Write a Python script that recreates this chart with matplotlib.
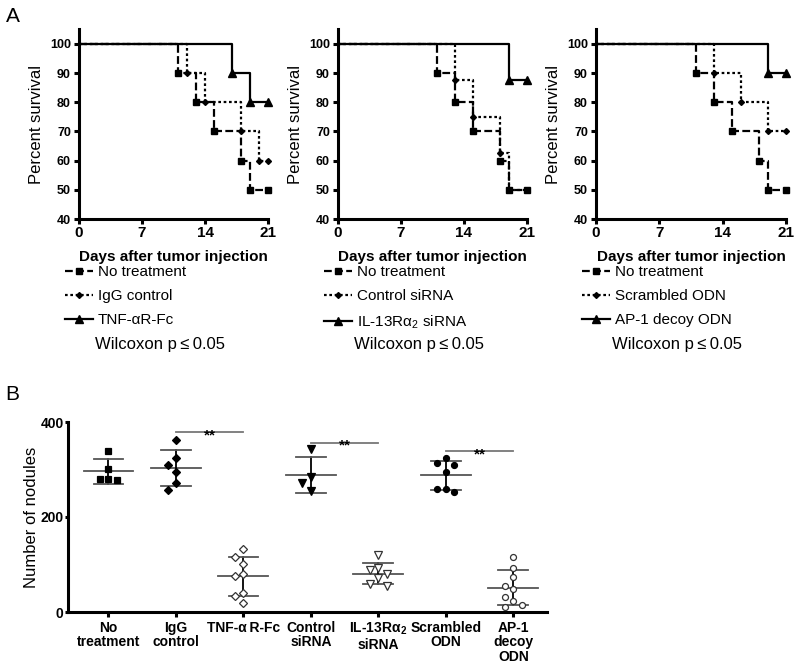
import numpy as np
import matplotlib
matplotlib.use('Agg')
import matplotlib.pyplot as plt
from matplotlib.lines import Line2D
from matplotlib.transforms import offset_copy

plt.rcParams['font.family'] = ['Liberation Sans', 'DejaVu Sans']
plt.rcParams['mathtext.default'] = 'regular'

# ---- panel A: survival curves (day of event, percent survival)
none_days = [0, 11, 13, 15, 18, 19, 21]
none_surv = [100, 90, 80, 70, 60, 50, 50]

igg_days = [0, 12, 14, 18, 20, 21]
igg_surv = [100, 90, 80, 70, 60, 60]
tnf_days = [0, 17, 19, 21]
tnf_surv = [100, 90, 80, 80]

ctrl_sirna_days = [0, 13, 15, 18, 19, 21]
ctrl_sirna_surv = [100, 87.5, 75, 62.5, 50, 50]
il13_days = [0, 19, 21]
il13_surv = [100, 87.5, 87.5]

scr_days = [0, 13, 16, 19, 21]
scr_surv = [100, 90, 80, 70, 70]
ap1_days = [0, 19, 21]
ap1_surv = [100, 90, 90]

ctrl_labels = ['IgG control', 'Control siRNA', 'Scrambled ODN']
treat_labels = ['TNF-αR-Fc', 'IL-13Rα${}_2$ siRNA', 'AP-1 decoy ODN']

# ---- panel B: nodule counts per mouse
groups = ['No\ntreatment', 'IgG\ncontrol', 'TNF-α\u2009R-Fc', 'Control\nsiRNA',
          'IL-13Rα${}_2$\nsiRNA', 'Scrambled\nODN', 'AP-1\ndecoy\nODN']
nod_none = [340, 302, 281, 278, 281]
nod_igg = [363, 325, 309, 295, 271, 257]
nod_tnf = [132, 116, 102, 81, 76, 39, 34, 20]
nod_ctrl_sirna = [343, 285, 272, 254]
nod_il13 = [119, 88, 92, 81, 71, 55, 60]
nod_scr = [325, 309, 313, 295, 260, 259, 252]
nod_ap1 = [115, 92, 73, 55, 48, 32, 23, 15, 10]
sig_pairs = [(1, 2), (3, 4), (5, 6)]
sig_heights = [378, 356, 338]

W, H = 800, 667
fig = plt.figure(figsize=(8, 6.67), dpi=100)


def px_axes(l, t, r, b):
    return fig.add_axes([l / W, 1 - b / H, (r - l) / W, (b - t) / H])


def style_axes(ax):
    for s in ['top', 'right']:
        ax.spines[s].set_visible(False)
    for s in ['left', 'bottom']:
        ax.spines[s].set_linewidth(2.2)
    ax.tick_params(direction='out', length=3.8, width=2.2)


dash = (0, (3.5, 1.5))
dot = (0, (1.2, 1.2))
styles = [dict(ls=dash, marker='s', ms=3.8),
          dict(ls=dot, marker='D', ms=3.0),
          dict(ls='-', marker='^', ms=6.0)]

panels = [((79, 268), [(none_days, none_surv), (igg_days, igg_surv), (tnf_days, tnf_surv)]),
          ((338, 527), [(none_days, none_surv), (ctrl_sirna_days, ctrl_sirna_surv), (il13_days, il13_surv)]),
          ((596, 786), [(none_days, none_surv), (scr_days, scr_surv), (ap1_days, ap1_surv)])]

for p, ((l, r), curves) in enumerate(panels):
    ax = px_axes(l, 29, r, 219)
    style_axes(ax)
    for (d, s), st in zip(curves, styles):
        ax.step(d, s, where='post', color='k', lw=1.6, ls=st['ls'], clip_on=False)
        ax.plot(d[1:], s[1:], ls='none', marker=st['marker'], ms=st['ms'],
                color='k', clip_on=False, zorder=5)
    ax.set_xlim(0, 21)
    ax.set_ylim(40, 105.1)
    ax.set_xticks([0, 7, 14, 21])
    ax.set_yticks(range(40, 101, 10))
    for t in ax.get_xticklabels():
        t.set_fontsize(11)
        t.set_fontweight('bold')
    for t in ax.get_yticklabels():
        t.set_fontsize(9)
        t.set_fontweight('bold')
    ax.tick_params(axis='x', pad=1.5)
    ax.tick_params(axis='y', pad=2)
    ax.set_xlabel('Days after tumor injection', fontsize=11, fontweight='bold', labelpad=7)
    ax.set_ylabel('Percent survival', fontsize=12, labelpad=4)

    handles = [Line2D([], [], color='k', lw=1.6, **st) for st in styles]
    labels = ['No treatment', ctrl_labels[p], treat_labels[p]]
    fig.legend(handles, labels, loc='upper left',
               bbox_to_anchor=((l - 14) / W, 1 - 265 / H), bbox_transform=fig.transFigure,
               frameon=False, fontsize=11, borderpad=0, borderaxespad=0,
               handlelength=1.85, handletextpad=0.3, labelspacing=0.66, numpoints=1)
    fig.text((l + 16) / W, 1 - 344 / H, 'Wilcoxon p\u2009≤\u20090.05', fontsize=12,
             ha='left', va='center', family=['Liberation Sans', 'DejaVu Sans'])

fig.text(13 / W, 1 - 16 / H, 'A', fontsize=15, ha='center', va='center')
fig.text(12 / W, 1 - 395 / H, 'B', fontsize=15, ha='center', va='center')

# ---- panel B
axb = px_axes(68, 422, 547, 612)
style_axes(axb)

values = [nod_none, nod_igg, nod_tnf, nod_ctrl_sirna, nod_il13, nod_scr, nod_ap1]
markers = ['s', 'D', 'D', 'v', 'v', 'o', 'o']
filled = [True, True, False, True, False, True, False]


def swarm(vals, gap=19):
    vals = np.asarray(vals, float)
    cols = np.zeros(len(vals))
    placed = []
    for i in np.argsort(-vals, kind='stable'):
        for k in [0, -1, 1, -2, 2]:
            if all(cols[j] != k or abs(vals[i] - vals[j]) >= gap for j in placed):
                cols[i] = k
                break
        placed.append(i)
    return cols


for i, (v, m, f) in enumerate(zip(values, markers, filled)):
    v = np.asarray(v, float)
    xs = i + swarm(v) * 0.125
    mean, sd = v.mean(), v.std(ddof=1)
    axb.plot([i - 0.37, i + 0.37], [mean, mean], color='#555555', lw=1.3, zorder=2)
    axb.plot([i, i], [mean - sd, mean + sd], color='k', lw=1.3, zorder=2)
    for y in (mean - sd, mean + sd):
        axb.plot([i - 0.22, i + 0.22], [y, y], color='#555555', lw=1.3, zorder=2)
    ms = 5.5 if m == 'v' else 4.3
    if m == 'D':
        ms = 3.8
    axb.plot(xs, v, ls='none', marker=m, ms=ms, color='k',
             mfc='k' if f else 'white', mec='k' if f else '#333333', mew=0.9, zorder=3)

star_tr = offset_copy(axb.transData, fig=fig, y=-5, units='points')
for (a, b), h in zip(sig_pairs, sig_heights):
    axb.plot([a, b], [h, h], color='#777777', lw=1.3, clip_on=False)
    axb.text((a + b) / 2, h, '**', transform=star_tr, ha='center', va='baseline',
             fontsize=11, fontweight='bold')

axb.set_xlim(-0.6, 6.5)
axb.set_ylim(0, 400)
axb.set_yticks([0, 200, 400])
axb.set_xticks(range(len(groups)))
axb.set_xticklabels(groups, fontsize=10, fontweight='bold', linespacing=1.05)
for t in axb.get_yticklabels():
    t.set_fontsize(10)
    t.set_fontweight('bold')
axb.tick_params(axis='x', pad=2.5)
axb.tick_params(axis='y', length=2.5, pad=0.6)
axb.set_ylabel('Number of nodules', fontsize=12, labelpad=1)

fig.savefig('out.png', dpi=100)
